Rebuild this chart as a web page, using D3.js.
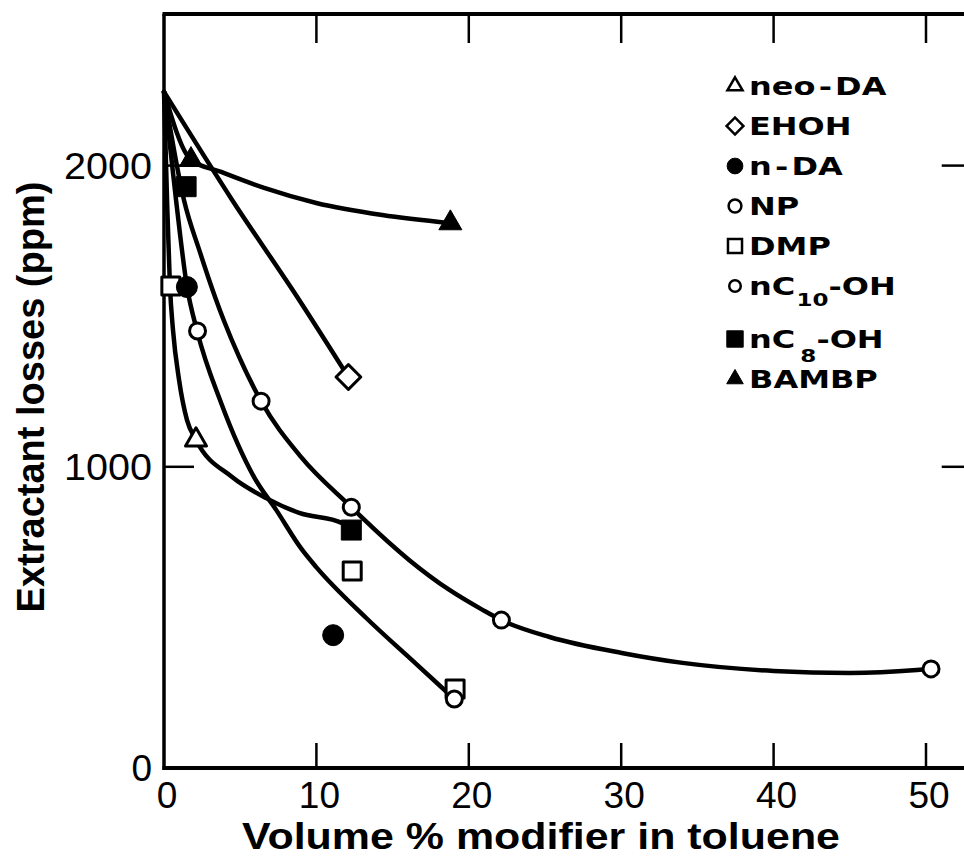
<!DOCTYPE html>
<html>
<head>
<meta charset="utf-8">
<script src="https://cdn.jsdelivr.net/npm/d3@7"></script>
<style>
  html, body { margin: 0; padding: 0; background: #fff; }
  svg { display: block; }
</style>
</head>
<body>
<svg id="chart" width="964" height="858"></svg>
<script>
// ---- axis ticks ----
const xTicks = [0, 10, 20, 30, 40, 50];
const yTicks = [0, 1000, 2000];
const xTitle = "Volume % modifier in toluene";
const yTitle = "Extractant losses (ppm)";

// ---- measured points: [volume % modifier, extractant losses ppm] ----
const neoDA  = [[2.1, 1089]];
const EHOH   = [[12.1, 1298]];
const nDA    = [[1.5, 1597], [11.1, 441]];
const NP     = [[2.2, 1451], [19.05, 229]];
const DMP    = [[0.45, 1600], [12.35, 654], [19.1, 262]];
const nC10OH = [[6.37, 1218], [12.29, 866], [22.14, 491], [50.33, 329]];
const nC8OH  = [[1.45, 1930], [12.29, 790]];
const BAMBP  = [[1.77, 2019], [18.79, 1809]];

// ---- hand-fitted curves as traced through the data ----
const curveBAMBP = [[0, 2245], [1.77, 2019], [3.75, 1979], [6.57, 1926], [9.99, 1876], [14.32, 1836], [18.79, 1809]];
const curveEHOH  = [[0, 2245], [4.47, 1886], [8.87, 1554], [12.1, 1298]];
const curveNeo   = [[0, 2245], [0.2, 1886], [0.39, 1600], [0.59, 1454], [0.99, 1288], [1.51, 1155], [2.1, 1089],
                    [4.47, 966], [6.7, 896], [8.87, 847], [11.7, 813], [12.29, 797]];
const curveNP    = [[0, 2245], [0.79, 1886], [1.51, 1597], [2.17, 1451], [3.75, 1212], [5.91, 966], [7.36, 857],
                    [9.07, 724], [9.99, 667], [13.27, 498], [16.56, 345], [19.05, 229]];
const curveC10   = [[0, 2245], [1.31, 1886], [2.37, 1711], [3.35, 1564], [3.94, 1484], [4.93, 1365], [6.37, 1218],
                    [9.0, 1032], [12.29, 866], [13.0, 831], [16.1, 690], [18.73, 591], [20.9, 525], [22.14, 491],
                    [25.3, 435], [30.03, 382], [34.03, 349], [40.0, 322], [45.0, 315], [49.4, 325], [50.33, 329]];

// ---- legend ----
const seriesNames  = ["neo-DA", "EHOH", "n-DA", "NP", "DMP", "nC10-OH", "nC8-OH", "BAMBP"];
const seriesShapes = ["triangle", "diamond", "circle", "circle", "square", "circle", "square", "triangle"];
const seriesFilled = [false, false, true, false, false, false, true, true];
const seriesPoints = [neoDA, EHOH, nDA, NP, DMP, nC10OH, nC8OH, BAMBP];
const curves = [curveBAMBP, curveEHOH, curveNeo, curveNP, curveC10];

// legend label pieces: [main, subscript, tail]
const legendLabels = [
  ["neo\u200A-\u200ADA", "", ""],
  ["EHOH", "", ""],
  ["n\u200A-\u200ADA", "", ""],
  ["NP", "", ""],
  ["DMP", "", ""],
  ["nC", "10", "-OH"],
  ["nC", "8", "-OH"],
  ["BAMBP", "", ""]
];

const svg = d3.select("#chart");

const x = d3.scaleLinear().domain([0, 53]).range([164, 164 + 53 * 15.24]);
const y = d3.scaleLinear().domain([0, 2500]).range([768, 15]);

const ink = "#000";

// ---- frame ----
const frame = svg.append("g");
frame.append("line").attr("x1", x(0)).attr("x2", x(0)).attr("y1", y(2500) - 1).attr("y2", y(0) + 2)
  .attr("stroke", ink).attr("stroke-width", 3.5);
frame.append("line").attr("x1", x(0) - 1.5).attr("x2", x(53)).attr("y1", y(0)).attr("y2", y(0))
  .attr("stroke", ink).attr("stroke-width", 4);
frame.append("line").attr("x1", x(0) - 1.5).attr("x2", x(53)).attr("y1", y(2500) - 1).attr("y2", y(2500) - 1)
  .attr("stroke", ink).attr("stroke-width", 4);
frame.append("line").attr("x1", x(53)).attr("x2", x(53)).attr("y1", y(2500)).attr("y2", y(0))
  .attr("stroke", ink).attr("stroke-width", 4);

// inward ticks on all four sides
const xt = xTicks.filter(d => d > 0);
frame.selectAll(".tb").data(xt).join("line")
  .attr("x1", d => x(d)).attr("x2", d => x(d)).attr("y1", y(0)).attr("y2", y(0) - 25)
  .attr("stroke", ink).attr("stroke-width", 2.5);
frame.selectAll(".tt").data(xt).join("line")
  .attr("x1", d => x(d)).attr("x2", d => x(d)).attr("y1", y(2500)).attr("y2", y(2500) + 28)
  .attr("stroke", ink).attr("stroke-width", 2.5);
const yt = yTicks.filter(d => d > 0);
frame.selectAll(".tl").data(yt).join("line")
  .attr("x1", x(0)).attr("x2", x(0) + 30).attr("y1", d => y(d)).attr("y2", d => y(d))
  .attr("stroke", ink).attr("stroke-width", 2.5);
frame.selectAll(".tr").data(yt).join("line")
  .attr("x1", x(53)).attr("x2", x(53) - 30).attr("y1", d => y(d)).attr("y2", d => y(d))
  .attr("stroke", ink).attr("stroke-width", 2.5);

// ---- tick labels ----
const tickFont = "'Liberation Sans', Arial, sans-serif";
svg.selectAll(".xl").data(xTicks).join("text")
  .attr("x", d => x(d) + 3).attr("y", 808)
  .attr("text-anchor", "middle")
  .attr("font-family", tickFont).attr("font-size", 37).attr("fill", ink)
  .text(d => d);
svg.selectAll(".yl").data(yTicks).join("text")
  .attr("x", 152).attr("y", d => y(d) + 13)
  .attr("text-anchor", "end")
  .attr("font-family", tickFont).attr("font-size", 37).attr("fill", ink)
  .attr("textLength", d => d === 0 ? null : 88).attr("lengthAdjust", "spacingAndGlyphs")
  .text(d => d);

// ---- axis titles ----
svg.append("text")
  .attr("x", 242).attr("y", 849)
  .attr("font-family", tickFont).attr("font-weight", "bold").attr("font-size", 37).attr("fill", ink)
  .attr("textLength", 598).attr("lengthAdjust", "spacingAndGlyphs")
  .text(xTitle);
svg.append("text")
  .attr("transform", "translate(44,397) rotate(-90)")
  .attr("text-anchor", "middle")
  .attr("font-family", tickFont).attr("font-weight", "bold").attr("font-size", 38).attr("fill", ink)
  .text(yTitle);

// ---- curves ----
const line = d3.line().x(d => x(d[0])).y(d => y(d[1])).curve(d3.curveMonotoneX);
svg.append("g").selectAll("path").data(curves).join("path")
  .attr("d", line)
  .attr("fill", "none").attr("stroke", ink).attr("stroke-width", 4.5)
  .attr("stroke-linejoin", "round").attr("stroke-linecap", "round");

// ---- markers ----
function symbolPath(shape, filled, scale) {
  let type, size, rot = 0;
  if (shape === "circle")   { type = d3.symbolCircle;   size = Math.PI * Math.pow(filled ? 10.5 : 8, 2); }
  if (shape === "square")   { type = d3.symbolSquare;   size = Math.pow(filled ? 20 : 18, 2); }
  if (shape === "diamond")  { type = d3.symbolSquare;   size = 17.5 * 17.5; rot = 45; }
  if (shape === "triangle") { type = d3.symbolTriangle; size = Math.sqrt(3) / 4 * Math.pow(filled ? 23 : 21, 2); }
  return { d: d3.symbol().type(type).size(size * scale * scale)(), rot };
}

const markers = svg.append("g");
const drawOrder = [4, 0, 1, 2, 6, 5, 3, 7];
drawOrder.forEach(i => {
  const shp = symbolPath(seriesShapes[i], seriesFilled[i], 1);
  markers.append("g").selectAll("path").data(seriesPoints[i]).join("path")
    .attr("d", shp.d)
    .attr("transform", d => `translate(${x(d[0])},${y(d[1])}) rotate(${shp.rot})`)
    .attr("fill", seriesFilled[i] ? ink : "#fff")
    .attr("stroke", ink).attr("stroke-width", seriesFilled[i] ? 1 : 3)
    .attr("stroke-linejoin", "round");
});

// ---- legend ----
const legendScale = [0.72, 0.68, 0.75, 0.8, 0.78, 0.72, 0.82, 0.72];
const legend = svg.append("g");
seriesNames.forEach((name, i) => {
  const base = 95 + i * 40 + (i >= 6 ? 13 : 0);
  const shp = symbolPath(seriesShapes[i], seriesFilled[i], legendScale[i]);
  legend.append("path")
    .attr("d", shp.d)
    .attr("transform", `translate(735,${base - 9}) rotate(${shp.rot})`)
    .attr("fill", seriesFilled[i] ? ink : "#fff")
    .attr("stroke", ink).attr("stroke-width", seriesFilled[i] ? 1 : 2.5);

  const lab = legendLabels[i];
  const t = legend.append("g").attr("transform", `translate(749,${base}) scale(1.28,1)`)
    .append("text")
    .attr("font-family", "'DejaVu Sans', sans-serif").attr("font-weight", "bold")
    .attr("font-size", 25).attr("fill", ink);
  t.append("tspan").text(lab[0]);
  if (lab[1]) {
    const down = lab[1] === "8" ? 14 : 11;
    t.append("tspan").attr("font-size", 18).attr("dx", lab[1] === "8" ? 4 : 1).attr("dy", down).text(lab[1]);
    t.append("tspan").attr("dy", -down).text(lab[2]);
  }
});
</script>
</body>
</html>
